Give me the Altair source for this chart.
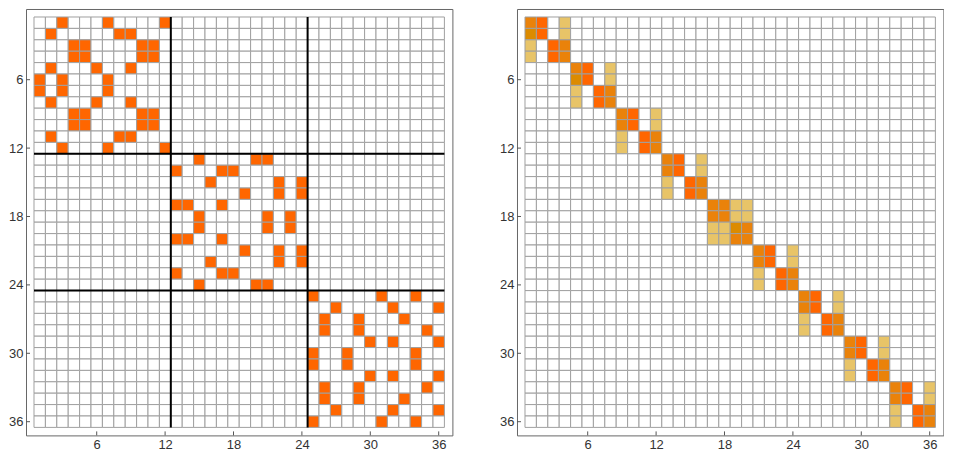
import altair as alt
import pandas as pd

N = 36
TICKS = [6, 12, 18, 24, 30, 36]
BLOCK_EDGES = [12.5, 24.5]

# Left panel: columns filled in each row (rows 1..36, top to bottom)
LEFT_ROWS = [
    [3, 7, 12], [2, 8, 9], [4, 5, 10, 11], [4, 5, 10, 11], [2, 6, 9], [1, 3, 7],
    [1, 3, 7], [2, 6, 9], [4, 5, 10, 11], [4, 5, 10, 11], [2, 8, 9], [3, 7, 12],
    [15, 20, 21], [13, 17, 18], [16, 22, 24], [19, 22, 24], [13, 14, 17], [15, 21, 23],
    [15, 21, 23], [13, 14, 17], [19, 22, 24], [16, 22, 24], [13, 17, 18], [15, 20, 21],
    [25, 31, 34], [27, 32, 36], [26, 29, 33], [26, 29, 35], [30, 32, 36], [25, 28, 34],
    [25, 28, 34], [30, 32, 36], [26, 29, 35], [26, 29, 33], [27, 32, 36], [25, 31, 34],
]

# Right panel: (column, level) per row; levels: t=tan, o=dark orange, g=gold, b=bright orange
RIGHT_ROWS = [
    [(1, "o"), (2, "b"), (4, "t")],
    [(1, "g"), (2, "b"), (4, "t")],
    [(1, "t"), (3, "b"), (4, "o")],
    [(1, "t"), (3, "b"), (4, "o")],
    [(5, "o"), (6, "b"), (8, "t")],
    [(5, "g"), (6, "b"), (8, "t")],
    [(5, "t"), (7, "b"), (8, "o")],
    [(5, "t"), (7, "b"), (8, "o")],
    [(9, "o"), (10, "b"), (12, "t")],
    [(9, "o"), (10, "b"), (12, "t")],
    [(9, "t"), (11, "b"), (12, "o")],
    [(9, "t"), (11, "b"), (12, "o")],
    [(13, "o"), (14, "b"), (16, "t")],
    [(13, "o"), (14, "b"), (16, "t")],
    [(13, "t"), (15, "b"), (16, "o")],
    [(13, "t"), (15, "b"), (16, "o")],
    [(17, "o"), (18, "o"), (19, "t"), (20, "t")],
    [(17, "o"), (18, "o"), (19, "t"), (20, "t")],
    [(17, "t"), (18, "t"), (19, "g"), (20, "o")],
    [(17, "t"), (18, "t"), (19, "o"), (20, "o")],
    [(21, "o"), (22, "b"), (24, "t")],
    [(21, "o"), (22, "b"), (24, "t")],
    [(21, "t"), (23, "b"), (24, "o")],
    [(21, "t"), (23, "b"), (24, "o")],
    [(25, "o"), (26, "b"), (28, "t")],
    [(25, "o"), (26, "b"), (28, "t")],
    [(25, "t"), (27, "b"), (28, "o")],
    [(25, "t"), (27, "b"), (28, "o")],
    [(29, "o"), (30, "b"), (32, "t")],
    [(29, "o"), (30, "b"), (32, "t")],
    [(29, "t"), (31, "b"), (32, "o")],
    [(29, "t"), (31, "b"), (32, "o")],
    [(33, "o"), (34, "b"), (36, "t")],
    [(33, "o"), (34, "b"), (36, "t")],
    [(33, "t"), (35, "b"), (36, "o")],
    [(33, "t"), (35, "b"), (36, "o")],
]

LEVEL_COLORS = {
    "none": "#ffffff",
    "hit": "#ff6600",
    "t": "#e8c468",
    "o": "#ea820a",
    "g": "#dc8b00",
    "b": "#ff6600",
}

CELL = 11.4
PAD_PX = 8
PAD = PAD_PX / CELL
SIZE = N * CELL + 2 * PAD_PX


def build_df(marks):
    recs = []
    for r in range(1, N + 1):
        for c in range(1, N + 1):
            lv = marks.get((r, c), "none")
            recs.append(dict(x=c - 0.5, x2=c + 0.5, y=r - 0.5, y2=r + 0.5,
                             level=lv, color=LEVEL_COLORS[lv]))
    return pd.DataFrame(recs)


left_marks = {}
for i, cols in enumerate(LEFT_ROWS):
    for c in cols:
        left_marks[(i + 1, c)] = "hit"
right_marks = {}
for i, items in enumerate(RIGHT_ROWS):
    for c, lv in items:
        right_marks[(i + 1, c)] = lv

xscale = alt.Scale(domain=[0.5 - PAD, N + 0.5 + PAD], nice=False, zero=False)
yscale = alt.Scale(domain=[0.5 - PAD, N + 0.5 + PAD], nice=False, zero=False, reverse=True)

axis_common = dict(values=TICKS, ticks=False, grid=False, domain=False,
                   labelFontSize=13, labelFont="Liberation Sans", labelColor="#333333",
                   labelPadding=3, title=None)


def X(field):
    return alt.X(field, scale=xscale, axis=alt.Axis(**axis_common))


def Y(field):
    return alt.Y(field, scale=yscale, axis=alt.Axis(**axis_common))


def panel(marks, dividers):
    df = build_df(marks)
    base = alt.Chart(df).mark_rect(stroke="#a0a0a0", strokeWidth=1).encode(
        x=X("x:Q"), x2="x2", y=Y("y:Q"), y2="y2",
        fill=alt.Fill("color:N", scale=None),
    )
    tdf = pd.DataFrame({"t": TICKS})
    xt = alt.Chart(tdf).mark_rule(color="#555555").encode(
        x=X("t:Q"), y=alt.value(SIZE), y2=alt.value(SIZE - 4))
    yt = alt.Chart(tdf).mark_rule(color="#555555").encode(
        y=Y("t:Q"), x=alt.value(0), x2=alt.value(4))
    layers = [base]
    if dividers:
        ddf = pd.DataFrame({"e": BLOCK_EDGES, "lo": [0.5] * len(BLOCK_EDGES),
                            "hi": [N + 0.5] * len(BLOCK_EDGES)})
        vl = alt.Chart(ddf).mark_rule(color="black", strokeWidth=2).encode(
            x=X("e:Q"), y=Y("lo:Q"), y2="hi")
        hl = alt.Chart(ddf).mark_rule(color="black", strokeWidth=2).encode(
            y=Y("e:Q"), x=X("lo:Q"), x2="hi")
        layers += [vl, hl]
    layers += [xt, yt]
    return alt.layer(*layers).properties(width=SIZE, height=SIZE)


left = panel(left_marks, True)
right = panel(right_marks, False)

chart = alt.hconcat(left, right, spacing=46).properties(padding=0).configure_view(
    stroke="#666666", strokeWidth=1)

chart.save("out.html", embed_options={"renderer": "svg", "actions": False})
